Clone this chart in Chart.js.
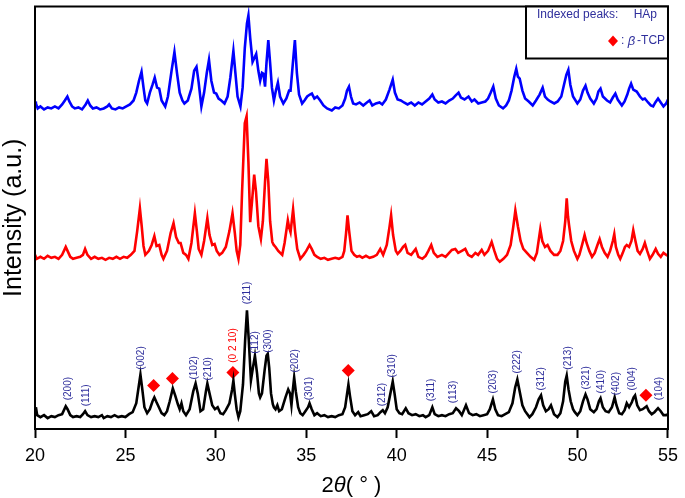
<!DOCTYPE html>
<html>
<head>
<meta charset="utf-8">
<script src="https://cdn.jsdelivr.net/npm/chart.js@4"></script>
<style>
html,body{margin:0;padding:0;background:#fff;}
#wrap{width:685px;height:498px;}
</style>
</head>
<body>
<div id="wrap"><canvas id="xrd" width="685" height="498"></canvas></div>
<script>
/* ================= DATA ================= */
// 2theta (deg), intensity (a.u., offset stacking)
const xTicks=[20,25,30,35,40,45,50,55];

const blueTrace=[[20.0,331],[20.05,329],[20.15,324],[20.3,326],[20.5,323],[20.7,325],[20.9,324],[21.1,326],[21.3,324],[21.5,328],[21.65,332],[21.79,336],[21.9,331],[22.05,326],[22.2,324],[22.4,325],[22.6,323],[22.8,328],[22.92,332],[23.05,327],[23.2,324],[23.4,325],[23.6,323],[23.8,324],[24.0,326],[24.1,328],[24.25,324],[24.45,323],[24.65,325],[24.85,324],[25.05,326],[25.25,328],[25.45,332],[25.6,340],[25.75,352],[25.89,361],[26.0,345],[26.1,332],[26.2,329],[26.35,340],[26.5,348],[26.62,355],[26.75,345],[26.87,344],[27.0,332],[27.2,326],[27.35,336],[27.55,362],[27.71,381],[27.85,360],[28.0,340],[28.15,332],[28.26,329],[28.45,332],[28.65,344],[28.8,362],[28.93,366],[29.05,350],[29.2,326],[29.35,340],[29.5,360],[29.62,373],[29.75,352],[29.9,340],[30.02,339],[30.15,334],[30.3,332],[30.48,329],[30.65,336],[30.8,355],[30.97,382],[31.08,360],[31.2,336],[31.36,326],[31.48,345],[31.6,385],[31.72,410],[31.8,418],[31.9,395],[32.03,371],[32.13,375],[32.23,379],[32.35,362],[32.45,352],[32.55,360],[32.63,359],[32.72,346],[32.8,370],[32.9,393],[33.0,370],[33.1,345],[33.21,332],[33.32,342],[33.43,350],[33.55,336],[33.73,329],[33.9,334],[34.05,342],[34.13,342],[34.25,368],[34.37,393],[34.48,360],[34.6,338],[34.77,329],[34.9,332],[35.05,336],[35.2,338],[35.31,339],[35.45,334],[35.6,336],[35.77,332],[35.95,327],[36.15,324],[36.41,322],[36.6,325],[36.8,324],[37.0,327],[37.15,334],[37.25,342],[37.36,346],[37.47,336],[37.59,329],[37.75,328],[37.95,330],[38.15,327],[38.35,330],[38.5,332],[38.65,327],[38.85,329],[39.05,330],[39.2,328],[39.4,333],[39.6,343],[39.78,353],[39.9,340],[40.05,333],[40.23,332],[40.4,330],[40.6,328],[40.8,330],[41.0,327],[41.2,330],[41.4,328],[41.6,331],[41.8,334],[41.97,338],[42.1,333],[42.3,330],[42.5,331],[42.7,329],[42.9,332],[43.1,334],[43.25,337],[43.42,340],[43.55,335],[43.75,333],[43.97,336],[44.15,331],[44.3,333],[44.51,329],[44.7,330],[44.9,331],[45.05,334],[45.2,340],[45.34,346],[45.48,334],[45.65,327],[45.88,324],[46.05,327],[46.2,332],[46.35,342],[46.5,356],[46.61,364],[46.7,356],[46.8,354],[46.95,342],[47.1,334],[47.3,331],[47.52,327],[47.7,332],[47.9,338],[48.07,345],[48.2,336],[48.35,333],[48.5,331],[48.71,329],[48.9,331],[49.1,336],[49.25,348],[49.38,358],[49.49,363],[49.6,348],[49.75,336],[49.99,329],[50.15,333],[50.3,342],[50.44,347],[50.55,340],[50.7,334],[50.9,329],[51.05,334],[51.15,341],[51.27,344],[51.4,336],[51.63,332],[51.8,330],[51.95,335],[52.09,339],[52.22,333],[52.45,327],[52.6,331],[52.75,338],[52.85,344],[52.96,349],[53.08,343],[53.27,341],[53.45,336],[53.6,333],[53.72,334],[53.9,330],[54.05,327],[54.18,326],[54.3,330],[54.45,334],[54.6,330],[54.75,326],[54.9,329],[55.0,333]];

const redTrace=[[20.0,176],[20.1,172],[20.3,174],[20.5,172],[20.7,175],[20.9,173],[21.1,174],[21.3,172],[21.5,176],[21.7,184],[21.8,180],[21.95,174],[22.1,172],[22.3,173],[22.5,174],[22.65,176],[22.77,182],[22.9,176],[23.1,172],[23.3,174],[23.5,172],[23.7,173],[23.9,171],[24.1,173],[24.3,172],[24.5,174],[24.7,172],[24.9,174],[25.1,173],[25.3,176],[25.5,180],[25.65,200],[25.8,223],[25.9,205],[26.0,185],[26.1,176],[26.3,180],[26.45,186],[26.6,195],[26.72,185],[26.87,186],[27.0,176],[27.1,172],[27.3,180],[27.5,198],[27.66,208],[27.8,194],[27.95,188],[28.05,188],[28.2,178],[28.35,176],[28.48,172],[28.65,188],[28.84,218],[28.95,200],[29.05,182],[29.2,176],[29.35,190],[29.53,213],[29.65,196],[29.8,186],[29.93,187],[30.05,180],[30.2,176],[30.35,178],[30.55,184],[30.75,200],[30.92,218],[31.05,198],[31.15,180],[31.25,172],[31.35,186],[31.45,240],[31.6,309],[31.7,316],[31.8,270],[31.9,209],[32.0,230],[32.12,257],[32.22,240],[32.35,205],[32.49,192],[32.6,210],[32.72,250],[32.8,273],[32.9,250],[33.0,210],[33.12,189],[33.2,186],[33.3,184],[33.45,180],[33.67,176],[33.8,188],[33.98,211],[34.05,204],[34.13,199],[34.27,222],[34.38,200],[34.5,182],[34.67,172],[34.85,176],[35.0,180],[35.18,186],[35.3,182],[35.45,176],[35.6,174],[35.8,172],[36.0,173],[36.2,171],[36.4,172],[36.6,173],[36.8,172],[37.0,174],[37.1,180],[37.2,198],[37.28,216],[37.37,200],[37.5,180],[37.65,176],[37.8,174],[37.95,175],[38.1,173],[38.3,175],[38.5,173],[38.7,174],[38.9,176],[39.09,182],[39.25,176],[39.45,186],[39.6,204],[39.69,216],[39.8,196],[39.95,180],[40.05,177],[40.2,180],[40.35,184],[40.47,186],[40.6,178],[40.8,176],[41.05,182],[41.2,174],[41.42,172],[41.6,175],[41.75,180],[41.91,186],[42.05,178],[42.25,174],[42.5,176],[42.7,174],[42.9,178],[43.05,181],[43.24,182],[43.4,178],[43.6,180],[43.79,182],[43.95,176],[44.15,174],[44.35,178],[44.5,176],[44.7,181],[44.85,176],[45.05,180],[45.25,189],[45.4,180],[45.55,172],[45.7,169],[45.9,172],[46.1,176],[46.3,186],[46.45,205],[46.56,221],[46.7,205],[46.85,190],[47.0,182],[47.2,178],[47.4,174],[47.6,171],[47.75,178],[47.94,202],[48.05,190],[48.2,184],[48.34,186],[48.5,180],[48.7,176],[48.89,176],[49.05,180],[49.2,190],[49.32,210],[49.4,233],[49.47,215],[49.53,206],[49.65,190],[49.8,180],[49.99,172],[50.1,176],[50.25,186],[50.39,196],[50.5,188],[50.65,180],[50.8,174],[50.95,178],[51.1,186],[51.22,192],[51.35,184],[51.5,178],[51.66,174],[51.8,180],[51.95,190],[52.03,197],[52.12,184],[52.25,176],[52.36,172],[52.5,178],[52.62,184],[52.72,186],[52.85,184],[52.98,190],[53.08,201],[53.2,190],[53.32,180],[53.45,177],[53.6,182],[53.72,188],[53.85,180],[54.0,172],[54.15,176],[54.32,182],[54.45,177],[54.6,174],[54.75,178],[54.9,176],[55.0,175]];

const blackTrace=[[20.0,15],[20.05,22],[20.12,14],[20.3,12],[20.5,14],[20.7,11],[20.9,13],[21.1,12],[21.3,14],[21.5,15],[21.7,23],[21.8,20],[21.95,14],[22.1,12],[22.3,13],[22.5,12],[22.65,15],[22.77,18],[22.9,14],[23.1,12],[23.3,13],[23.5,12],[23.7,14],[23.8,11],[24.0,13],[24.2,12],[24.4,14],[24.6,12],[24.8,13],[25.0,12],[25.2,15],[25.4,17],[25.6,26],[25.75,45],[25.83,55],[25.92,42],[26.05,22],[26.2,16],[26.35,20],[26.5,28],[26.6,32],[26.72,27],[26.85,22],[27.0,16],[27.15,14],[27.3,18],[27.45,28],[27.62,41],[27.75,34],[27.9,25],[28.0,20],[28.1,26],[28.2,18],[28.35,14],[28.55,20],[28.75,38],[28.88,46],[29.0,36],[29.15,18],[29.3,20],[29.45,38],[29.53,46],[29.65,36],[29.8,24],[29.95,20],[30.1,22],[30.25,16],[30.4,15],[30.55,19],[30.75,26],[30.9,40],[30.97,49],[31.05,35],[31.15,20],[31.25,12],[31.35,18],[31.5,45],[31.62,90],[31.72,120],[31.82,90],[31.94,49],[32.05,62],[32.16,74],[32.28,56],[32.38,36],[32.45,32],[32.55,36],[32.7,60],[32.8,74],[32.87,76],[32.95,62],[33.05,36],[33.15,25],[33.21,22],[33.3,20],[33.4,24],[33.5,18],[33.65,20],[33.85,32],[34.0,40],[34.1,36],[34.18,24],[34.26,40],[34.33,52],[34.42,38],[34.55,22],[34.67,16],[34.8,14],[34.95,18],[35.1,22],[35.18,26],[35.3,20],[35.45,14],[35.6,16],[35.8,13],[36.0,14],[36.2,12],[36.4,13],[36.6,12],[36.8,14],[37.0,15],[37.15,22],[37.25,35],[37.33,45],[37.42,33],[37.55,18],[37.7,14],[37.87,17],[38.0,13],[38.2,14],[38.4,15],[38.59,18],[38.75,13],[38.95,14],[39.1,17],[39.23,19],[39.35,16],[39.5,22],[39.65,36],[39.78,48],[39.88,36],[40.0,20],[40.15,16],[40.3,15],[40.5,21],[40.65,16],[40.85,14],[41.05,15],[41.25,13],[41.45,14],[41.6,12],[41.8,14],[41.97,22],[42.1,15],[42.3,13],[42.5,14],[42.7,13],[42.9,15],[43.1,16],[43.28,21],[43.45,18],[43.6,14],[43.83,24],[44.0,16],[44.2,14],[44.4,15],[44.6,13],[44.8,14],[45.0,15],[45.15,20],[45.32,30],[45.45,20],[45.6,14],[45.8,13],[46.0,15],[46.2,17],[46.4,26],[46.55,42],[46.67,50],[46.8,38],[46.95,24],[47.1,18],[47.34,12],[47.5,15],[47.7,22],[47.85,30],[47.98,34],[48.1,24],[48.25,18],[48.4,20],[48.53,24],[48.7,15],[48.89,12],[49.05,16],[49.2,28],[49.32,48],[49.4,54],[49.5,40],[49.62,28],[49.75,20],[49.85,17],[49.99,14],[50.15,18],[50.3,28],[50.44,35],[50.55,30],[50.7,20],[50.9,17],[51.05,20],[51.18,28],[51.27,31],[51.4,22],[51.55,18],[51.72,17],[51.9,22],[52.05,32],[52.15,24],[52.3,16],[52.45,15],[52.6,19],[52.72,26],[52.85,22],[53.0,27],[53.1,32],[53.18,34],[53.3,24],[53.45,19],[53.6,20],[53.82,23],[53.95,18],[54.1,15],[54.25,17],[54.45,21],[54.6,18],[54.75,14],[54.9,14],[55.0,15]];

// beta-TCP markers
const tcpX=[26.56,27.6,30.94,37.32,53.78];
const tcpY=[44,51,57,59,34];

// HAp indexed peaks (label start position)
const hklText=["(200)","(111)","(002)","(102)","(210)","(0 2 10)","(211)","(112)","(300)","(202)","(301)","(212)","(310)","(311)","(113)","(203)","(222)","(312)","(213)","(321)","(410)","(402)","(004)","(104)"];
const hklX=[21.82,22.86,25.89,28.8,29.57,30.97,31.76,32.18,32.89,34.4,35.17,39.18,39.78,41.91,43.15,45.34,46.67,47.98,49.49,50.48,51.3,52.12,53.03,54.51];
const hklY=[29,23,60,50,49,67,126,76,77,57,29,23,52,28,26,36,56,39,60,40,36,34,39,29];

/* ================= STYLE ================= */
const FONT="'Liberation Sans', Arial, sans-serif";
const LABEL_BLUE="#2f2f9c";

function pts(arr){ return arr.map(p=>({x:p[0],y:p[1]})); }

/* ================= PLUGIN: frame, labels, titles, key ================= */
const decor={
id:"decor",
afterDatasetsDraw(chart){
const ctx=chart.ctx, a=chart.chartArea;
const xs=chart.scales.x, ys=chart.scales.y;

// hkl labels
ctx.save();
ctx.font="10px "+FONT;
ctx.textAlign="left";
ctx.textBaseline="middle";
hklText.forEach((t,i)=>{
ctx.save();
ctx.translate(xs.getPixelForValue(hklX[i]),ys.getPixelForValue(hklY[i]));
ctx.rotate(-Math.PI/2);
ctx.fillStyle=t==="(0 2 10)"?"#ff0000":LABEL_BLUE;
ctx.fillText(t,0,0);
ctx.restore();
});
ctx.restore();

// frame
ctx.save();
ctx.strokeStyle="#000";
ctx.lineWidth=2;
ctx.strokeRect(a.left,a.top,a.right-a.left,a.bottom-a.top);

// key box
const bx=526,by=a.top,bw=a.right-526,bh=52;
ctx.fillStyle="#fff";
ctx.fillRect(bx,by,bw,bh);
ctx.strokeRect(bx,by,bw,bh);
ctx.fillStyle=LABEL_BLUE;
ctx.font="12px "+FONT;
ctx.textBaseline="middle";
ctx.textAlign="left";
ctx.fillText("Indexed peaks:",537,15);
ctx.textAlign="right";
ctx.fillText("HAp",657,15);

// diamond + ": β -TCP"
ctx.fillStyle="#ff0000";
ctx.beginPath();
ctx.moveTo(613,35.5);ctx.lineTo(618,41);ctx.lineTo(613,46.5);ctx.lineTo(608,41);
ctx.closePath();ctx.fill();
ctx.fillStyle=LABEL_BLUE;
ctx.textAlign="left";
let tx=621;
ctx.fillText(":",tx,41); tx+=ctx.measureText(": ").width;
ctx.font="italic 13px "+FONT;
ctx.fillText("β",tx,41); tx+=ctx.measureText("β").width+2;
ctx.font="12px "+FONT;
ctx.fillText("-TCP",tx,41);

// y title
ctx.fillStyle="#000";
ctx.font="25px "+FONT;
ctx.save();
ctx.translate(14,(a.top+a.bottom)/2);
ctx.rotate(-Math.PI/2);
ctx.textAlign="center";
ctx.textBaseline="middle";
ctx.fillText("Intensity (a.u.)",0,0);
ctx.restore();

// x title: 2θ( ° )
const parts=[["2","22px "+FONT],["θ","italic 22px "+FONT],["( ° )","22px "+FONT]];
let w=0;
parts.forEach(p=>{ctx.font=p[1];w+=ctx.measureText(p[0]).width;});
let px=(a.left+a.right)/2-w/2;
ctx.textAlign="left";
ctx.textBaseline="middle";
parts.forEach(p=>{ctx.font=p[1];ctx.fillText(p[0],px,486);px+=ctx.measureText(p[0]).width;});
ctx.restore();
}
};

/* ================= CHART ================= */
new Chart(document.getElementById("xrd"),{
type:"scatter",
data:{
datasets:[
{label:"top",data:pts(blueTrace),showLine:true,borderColor:"#0000ff",borderWidth:2.6,pointRadius:0,tension:0},
{label:"mid",data:pts(redTrace),showLine:true,borderColor:"#ff0000",borderWidth:2.6,pointRadius:0,tension:0},
{label:"bottom",data:pts(blackTrace),showLine:true,borderColor:"#000000",borderWidth:2.6,pointRadius:0,tension:0},
{label:"β-TCP",data:tcpX.map((x,i)=>({x,y:tcpY[i]})),showLine:false,pointStyle:"rectRot",pointRadius:6.5,backgroundColor:"#ff0000",borderWidth:0}
]
},
options:{
responsive:false,
animation:false,
events:[],
layout:{padding:{left:35,right:10,top:2,bottom:0}},
plugins:{legend:{display:false},tooltip:{enabled:false}},
scales:{
x:{
type:"linear",min:20,max:55,
afterBuildTicks(s){ s.ticks=xTicks.map(v=>({value:v})); },
afterFit(s){ s.height=69; },
ticks:{font:{size:18,family:FONT},color:"#000",padding:7,maxRotation:0},
grid:{drawOnChartArea:false,drawTicks:true,tickLength:9,tickColor:"#000",tickWidth:2},
border:{display:true,color:"#000",width:2}
},
y:{display:false,min:0,max:427}
}
},
plugins:[decor]
});
</script>
</body>
</html>
